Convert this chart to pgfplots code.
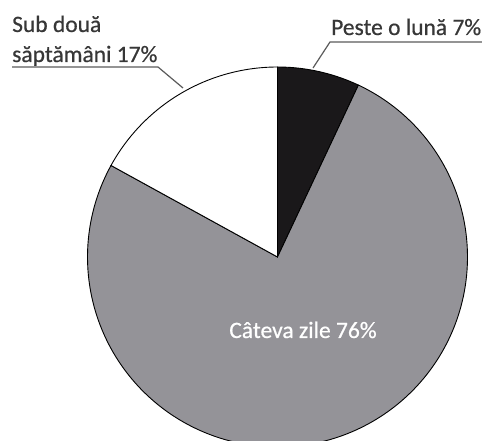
\documentclass[border=0pt]{standalone}
\usepackage{pgfplots}
\pgfplotsset{compat=1.18}
\usepackage{fontspec}
\setmainfont{Carlito}
\newfontfamily\labfont[FakeBold=0.6]{Carlito}
\definecolor{slicegray}{RGB}{148,147,152}
\definecolor{sliceblack}{RGB}{26,24,26}
\definecolor{labeltext}{RGB}{55,55,55}
\definecolor{leader}{RGB}{90,90,90}
% percentages (clockwise from 12 o'clock)
\def\pPeste{7}
\def\pCateva{76}
\def\pSub{17}
\def\cx{277.5}
\def\cy{184}
\def\rr{190}
\begin{document}
\begin{tikzpicture}
\useasboundingbox (0,0) rectangle (482pt,441pt);
\begin{axis}[
  scale only axis, width=482pt, height=441pt,
  xmin=0, xmax=482, ymin=0, ymax=441,
  hide axis, clip=true,
]
\pgfmathsetmacro{\aA}{90}
\pgfmathsetmacro{\aB}{90-3.6*\pPeste}
\pgfmathsetmacro{\aC}{\aB-3.6*\pCateva}
\pgfmathsetmacro{\aD}{\aC-3.6*\pSub}
\addplot[fill=sliceblack, draw=black, line width=0.9pt, domain=\aA:\aB, samples=40, variable=\t]
  ({\cx+\rr*cos(\t)}, {\cy+\rr*sin(\t)}) -- (\cx,\cy) -- cycle;
\addplot[fill=slicegray, draw=black, line width=0.9pt, domain=\aB:\aC, samples=200, variable=\t]
  ({\cx+\rr*cos(\t)}, {\cy+\rr*sin(\t)}) -- (\cx,\cy) -- cycle;
\addplot[fill=white, draw=black, line width=0.9pt, domain=\aC:\aD, samples=60, variable=\t]
  ({\cx+\rr*cos(\t)}, {\cy+\rr*sin(\t)}) -- (\cx,\cy) -- cycle;
\addplot[draw=leader, line width=1.2pt] coordinates {(12,374) (158,374) (183,353)};
\addplot[draw=leader, line width=1.2pt] coordinates {(484,399) (330,399) (313,373)};
\node[anchor=base west, inner sep=0pt, text=labeltext, font=\labfont\fontsize{23.5}{28}\selectfont] at (12,409) {Sub două};
\node[anchor=base west, inner sep=0pt, text=labeltext, font=\labfont\fontsize{23.5}{28}\selectfont] at (12,379) {săptămâni 17\%};
\node[anchor=base west, inner sep=0pt, text=labeltext, font=\labfont\fontsize{23.5}{28}\selectfont] at (331,406) {Peste o lună 7\%};
\node[anchor=base, inner sep=0pt, text=white, font=\labfont\fontsize{23.5}{28}\selectfont] at (303,103) {Câteva zile 76\%};
\end{axis}
\end{tikzpicture}
\end{document}
